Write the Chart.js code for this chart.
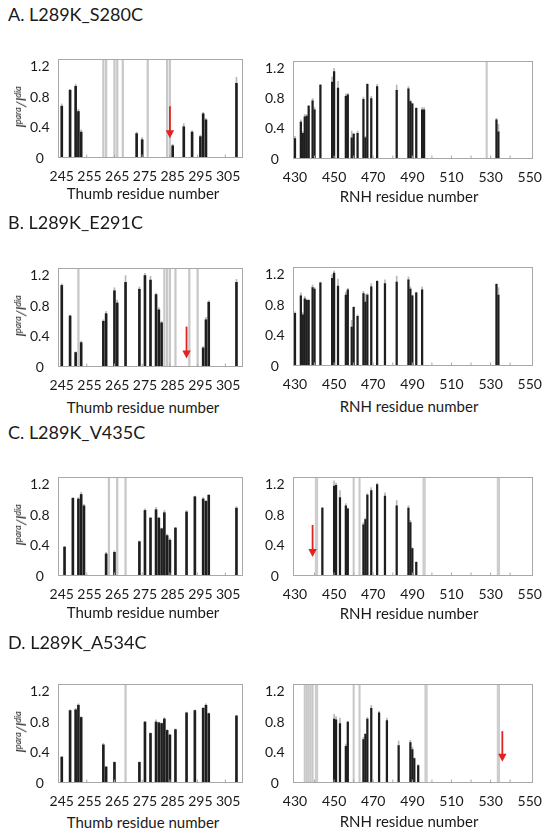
<!DOCTYPE html>
<html><head><meta charset="utf-8">
<script src="https://cdn.jsdelivr.net/npm/chart.js@4/dist/chart.umd.min.js"></script>
<style>
body{margin:0;background:#fff;width:552px;height:833px;overflow:hidden;position:relative;font-family:Lato,'Open Sans',sans-serif;color:#1a1a1a}
.t{position:absolute;left:8px;font-size:18px;line-height:22px;white-space:nowrap}
.xt{position:absolute;font-size:15px;line-height:18px;white-space:nowrap;transform:translate(-50%,-50%)}
.yt{position:absolute;font-size:14px;line-height:16px;font-style:italic;white-space:nowrap;transform:translate(-50%,-50%) rotate(-90deg)}
.yt sup{font-size:9px;vertical-align:5px;line-height:0}
canvas{position:absolute}
</style></head><body>
<script>
// ---- axis ticks ----
const thumbTicks = [245,255,265,275,285,295,305];
const rnhTicks = [430,450,470,490,510,530,550];
const yTicks = [0,0.2,0.4,0.6,0.8,1.0,1.2];
const thumbMinor = [254,264,274,284,294,304];
const rnhMinor = [440,450,460,470,480,490,500,510,520,530,540];

// ---- A. L289K_S280C ----
const A_thumb_res = [245,248,250,251,252,272,274,285,289,292,295,296,297,308];
const A_thumb_val = [0.68,0.89,0.94,0.61,0.34,0.32,0.24,0.16,0.41,0.34,0.28,0.58,0.50,0.98];
const A_thumb_err = [0.03,0.01,0.03,0.03,0.03,0.02,0.03,0.02,0.04,0.02,0.02,0.02,0.02,0.08];
const A_thumb_gray = [260,261,264,265,267,276,283,284];
const A_thumb_arrow = [284,0.68,0.26];
const A_rnh_res = [430,433,434,435,436,437,439,440,443,449,450,452,456,457,459,460,462,465,466,467,469,472,482,488,489,490,492,495,496,533,534];
const A_rnh_val = [0.27,0.49,0.34,0.56,0.57,0.70,0.77,0.65,0.98,1.02,1.16,0.94,0.83,0.85,0.28,0.33,0.34,0.79,0.28,0.99,0.80,0.96,0.91,0.93,0.76,0.73,0.67,0.65,0.65,0.52,0.36];
const A_rnh_err = [0.03,0.03,0.02,0.03,0.02,0.01,0.03,0.03,0.01,0.07,0.04,0.09,0.03,0.02,0.09,0.01,0.03,0.03,0.02,0.01,0.03,0.03,0.07,0.03,0.02,0.01,0.01,0.03,0.03,0.02,0.10];
const A_rnh_gray = [528];

// ---- B. L289K_E291C ----
const B_thumb_res = [245,248,250,252,260,261,264,265,268,273,275,277,279,280,281,296,297,298,308];
const B_thumb_val = [1.07,0.67,0.19,0.32,0.60,0.70,1.00,0.84,1.11,1.02,1.20,1.14,0.95,0.75,0.58,0.25,0.62,0.85,1.11];
const B_thumb_err = [0.02,0.01,0.01,0.02,0.02,0.03,0.04,0.04,0.09,0.03,0.03,0.05,0.02,0.03,0.02,0.02,0.03,0.02,0.04];
const B_thumb_gray = [251,282,283,284,286,291,294];
const B_thumb_arrow = [290,0.53,0.11];
const B_rnh_res = [430,433,434,435,436,437,439,440,443,449,450,452,456,457,459,460,462,465,466,467,469,472,476,482,488,489,490,492,495,533,534];
const B_rnh_val = [0.69,0.92,0.67,0.88,0.86,0.86,1.03,1.01,1.09,1.15,1.22,1.05,0.93,1.00,0.51,0.77,0.65,0.95,0.84,0.93,1.04,1.11,1.08,1.10,1.13,1.01,0.92,0.96,1.00,1.07,0.93];
const B_rnh_err = [0.02,0.04,0.03,0.03,0.02,0.01,0.03,0.02,0.01,0.05,0.03,0.09,0.04,0.02,0.09,0.01,0.02,0.03,0.10,0.02,0.04,0.01,0.05,0.08,0.04,0.03,0.01,0.01,0.04,0.01,0.10];
const B_rnh_gray = [];

// ---- C. L289K_V435C ----
const C_thumb_res = [246,249,251,252,253,261,264,273,275,277,279,280,281,282,283,284,286,290,293,296,297,298,308];
const C_thumb_val = [0.38,1.02,1.01,1.07,0.92,0.29,0.31,0.45,0.86,0.76,0.87,0.76,0.62,0.83,0.53,0.47,0.63,0.84,1.04,1.01,0.98,1.06,0.89];
const C_thumb_err = [0.01,0.01,0.02,0.03,0.02,0.02,0.02,0.01,0.02,0.01,0.03,0.01,0.01,0.03,0.02,0.02,0.01,0.02,0.01,0.02,0.01,0.01,0.02];
const C_thumb_gray = [262,265,268];
const C_rnh_res = [444,450,451,453,456,457,465,466,467,469,472,476,482,488,489,490,492];
const C_rnh_val = [0.89,1.18,1.19,1.03,0.92,0.88,0.67,0.74,1.06,1.12,1.20,1.05,0.92,0.89,0.70,0.36,0.18];
const C_rnh_err = [0.01,0.07,0.03,0.09,0.03,0.01,0.03,0.02,0.02,0.04,0.02,0.04,0.07,0.03,0.03,0.01,0.01];
const C_rnh_gray = [460,463];
const C_rnh_wide = [441,496,534];
const C_rnh_arrow = [439,0.67,0.25];

// ---- D. L289K_A534C ----
const D_thumb_res = [245,248,250,251,252,260,261,264,273,275,277,279,280,281,282,283,284,286,290,293,296,297,298,308];
const D_thumb_val = [0.34,0.95,0.96,1.02,0.86,0.50,0.21,0.27,0.27,0.80,0.65,0.80,0.79,0.78,0.84,0.69,0.63,0.70,0.92,0.95,0.98,1.02,0.91,0.88];
const D_thumb_err = [0.01,0.01,0.02,0.02,0.01,0.02,0.01,0.01,0.01,0.01,0.01,0.03,0.01,0.01,0.02,0.01,0.01,0.01,0.01,0.01,0.01,0.02,0.01,0.01];
const D_thumb_gray = [268];
const D_rnh_res = [450,451,453,456,457,465,466,467,469,473,477,483,489,490,491,493];
const D_rnh_val = [0.84,0.83,0.78,0.48,0.80,0.57,0.64,0.84,0.98,0.92,0.82,0.49,0.53,0.44,0.32,0.23];
const D_rnh_err = [0.06,0.04,0.07,0.03,0.01,0.03,0.01,0.02,0.04,0.02,0.03,0.06,0.03,0.03,0.01,0.01];
const D_rnh_gray = [435,436,437,438,439,460,463];
const D_rnh_wide = [441,497,534];
const D_rnh_arrow = [536,0.68,0.28];

const yMax = 1.3;
const FONT = "Lato, 'Open Sans', sans-serif";

const panels = [
  {title:'A. L289K_S280C', titleY:3, side:'thumb', top:45, bottom:158, tickLblY:177, xTitleY:193, res:A_thumb_res, val:A_thumb_val, err:A_thumb_err, gray:A_thumb_gray, wide:[], arrow:A_thumb_arrow},
  {side:'rnh', top:47, bottom:159, xTitleY:196, res:A_rnh_res, val:A_rnh_val, err:A_rnh_err, gray:A_rnh_gray, wide:[], arrow:null},
  {title:'B. L289K_E291C', titleY:211, side:'thumb', top:254, bottom:367, xTitleY:407, res:B_thumb_res, val:B_thumb_val, err:B_thumb_err, gray:B_thumb_gray, wide:[], arrow:B_thumb_arrow},
  {side:'rnh', top:253, bottom:366, xTitleY:406, res:B_rnh_res, val:B_rnh_val, err:B_rnh_err, gray:B_rnh_gray, wide:[], arrow:null},
  {title:'C. L289K_V435C', titleY:421, side:'thumb', top:463, bottom:576, xTitleY:612, res:C_thumb_res, val:C_thumb_val, err:C_thumb_err, gray:C_thumb_gray, wide:[], arrow:null},
  {side:'rnh', top:463, bottom:576, xTitleY:613, res:C_rnh_res, val:C_rnh_val, err:C_rnh_err, gray:C_rnh_gray, wide:C_rnh_wide, arrow:C_rnh_arrow},
  {title:'D. L289K_A534C', titleY:631, side:'thumb', top:670, bottom:783, xTitleY:822, res:D_thumb_res, val:D_thumb_val, err:D_thumb_err, gray:D_thumb_gray, wide:[], arrow:null},
  {side:'rnh', top:670, bottom:783, xTitleY:821, res:D_rnh_res, val:D_rnh_val, err:D_rnh_err, gray:D_rnh_gray, wide:D_rnh_wide, arrow:D_rnh_arrow},
];

const boxPlugin = {
  id:'box',
  afterDatasetsDraw(chart, args, opts){
    const {ctx, chartArea:a, scales:{x,y}} = chart;
    ctx.save();
    ctx.strokeStyle = '#a8a8a8'; ctx.lineWidth = 1;
    (opts.minor||[]).forEach(v=>{
      const px = x.getPixelForValue(v);
      ctx.beginPath(); ctx.moveTo(px, a.bottom); ctx.lineTo(px, a.bottom-3.5); ctx.stroke();
    });
    ctx.strokeRect(Math.round(a.left)-0.5, Math.round(a.top)+0.5, Math.round(a.right-a.left)+1, Math.round(a.bottom-a.top)-1);
    const ar = opts.arrow;
    if (ar){
      const px = x.getPixelForValue(ar[0]);
      const y1 = y.getPixelForValue(ar[1]), y2 = y.getPixelForValue(ar[2]);
      ctx.strokeStyle = '#e3231f'; ctx.fillStyle = '#e3231f'; ctx.lineWidth = 1.8;
      ctx.beginPath(); ctx.moveTo(px, y1); ctx.lineTo(px, y2-6); ctx.stroke();
      ctx.beginPath(); ctx.moveTo(px-4.2, y2-8); ctx.lineTo(px+4.2, y2-8); ctx.lineTo(px, y2); ctx.closePath(); ctx.fill();
    }
    ctx.restore();
  }
};

function addText(cls, html, x, y){
  const d = document.createElement('div');
  d.className = cls; d.innerHTML = html;
  if (x !== null) d.style.left = x+'px';
  d.style.top = y+'px';
  document.body.appendChild(d);
}

panels.forEach(p=>{
  const thumb = p.side === 'thumb';
  const left = thumb ? 0 : 262, W = thumb ? 252 : 290;
  const padTop = 4, axisH = 30;
  const H = (p.bottom - p.top) + padTop + axisH;
  const c = document.createElement('canvas');
  c.width = W; c.height = H;
  c.style.left = left+'px'; c.style.top = (p.top - padTop)+'px';
  c.style.width = W+'px'; c.style.height = H+'px';
  document.body.appendChild(c);

  if (p.title) addText('t', p.title, null, p.titleY);
  if (thumb) addText('yt', '<i>I</i><sup>para</sup>/<i>I</i><sup>dia</sup>', 21, (p.top+p.bottom)/2 + 5);
  addText('xt', thumb ? 'Thumb residue number' : 'RNH residue number', thumb ? 143 : 409, p.xTitleY);

  const bw = thumb ? 2 : 1.6;
  new Chart(c, {
    type:'bar',
    data:{datasets:[
      {data:p.res.map((x,i)=>({x:x, y:p.val[i]})), backgroundColor:'#1e1e1e', barThickness:bw, grouped:false, order:1},
      {data:p.res.map((x,i)=>({x:x, y:[p.val[i], p.val[i]+p.err[i]]})), backgroundColor:'#b8b8b8', barThickness:1, grouped:false, order:2},
      {data:p.gray.map(x=>({x:x, y:yMax})), backgroundColor:'#c8c8c8', barThickness:thumb?1.6:1.4, grouped:false, order:3},
      {data:p.wide.map(x=>({x:x, y:yMax})), backgroundColor:'#cdcdcd', barThickness:2.6, grouped:false, order:4}
    ]},
    options:{
      responsive:false, animation:false, devicePixelRatio:1,
      layout:{padding:{top:padTop, right:thumb?10:13, left:0, bottom:0}},
      plugins:{legend:{display:false}, tooltip:{enabled:false},
        box:{minor: thumb ? thumbMinor : rnhMinor, arrow: p.arrow}},
      scales:{
        x:{type:'linear', min:thumb?244:429.5, max:thumb?310:551, offset:false,
          grid:{display:false, drawTicks:false}, border:{display:false},
          afterBuildTicks:s=>{ s.ticks = (thumb?thumbTicks:rnhTicks).map(v=>({value:v})); },
          afterFit:s=>{ s.height = axisH; },
          ticks:{padding:10, autoSkip:false, maxRotation:0, color:'#1a1a1a', font:{family:FONT, size:14}, callback:v=>String(v)}
        },
        y:{type:'linear', min:0, max:yMax,
          grid:{display:false, drawTicks:false}, border:{display:false},
          afterBuildTicks:s=>{ s.ticks = yTicks.map(v=>({value:v})); },
          afterFit:s=>{ s.width = thumb ? 59 : 32; },
          ticks:{padding:9.5, crossAlign:'center', color:'#1a1a1a', font:{family:FONT, size:14}, callback:v=>String(+Number(v).toFixed(1))}
        }
      }
    },
    plugins:[boxPlugin]
  });
});
</script>
</body></html>
